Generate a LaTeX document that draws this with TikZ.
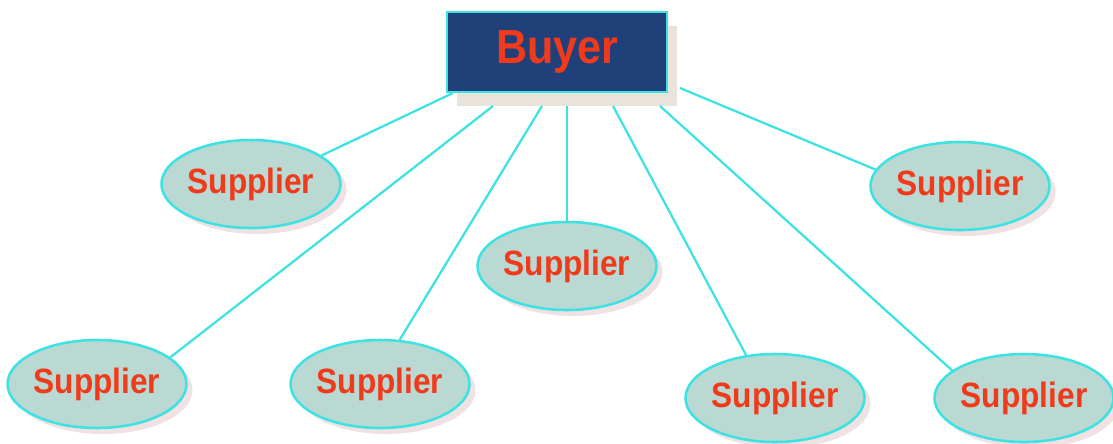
\documentclass[tikz,border=0pt]{standalone}
\usepackage{fontspec}
\setmainfont{Liberation Sans}
\usepackage{graphicx}
\usetikzlibrary{shapes.geometric,shadows}

\definecolor{navy}{HTML}{1F4079}
\definecolor{cyanline}{HTML}{3EE2E2}
\definecolor{redtext}{HTML}{F03A1C}
\definecolor{sagefill}{HTML}{B9D9D2}
\definecolor{beige}{HTML}{E9E4D9}
\definecolor{pinkshade}{HTML}{F0E2E2}

\newcommand{\narrow}[1]{\scalebox{0.9}[1]{#1}}

\begin{document}
\begin{tikzpicture}[x=0.025cm,y=-0.025cm]
        \useasboundingbox (0,0) rectangle (1113,443);

        \node (buyer) at (557,52) [rectangle,draw=cyanline,line width=2pt,fill=navy,
          minimum width=5.5cm,minimum height=2cm,
          drop shadow={shadow xshift=0.25cm,shadow yshift=-0.35cm,fill=beige,opacity=1},
          text=redtext,font=\bfseries\fontsize{34}{40}\selectfont] {\narrow{Buyer}};

        \begin{scope}[every node/.style={ellipse,draw=cyanline,line width=1.8pt,fill=sagefill,
            minimum width=4.35cm,minimum height=2.2cm,inner sep=0pt,
            drop shadow={shadow xshift=0.15cm,shadow yshift=-0.15cm,fill=pinkshade,opacity=1},
            text=redtext,font=\bfseries\fontsize{25}{30}\selectfont}]
          \node (1) at (251,184)  {\narrow{Supplier}};
          \node (2) at (960,186)  {\narrow{Supplier}};
          \node (3) at (567,266)  {\narrow{Supplier}};
          \node (4) at (97,384)   {\narrow{Supplier}};
          \node (5) at (380,384)  {\narrow{Supplier}};
          \node (6) at (775,398)  {\narrow{Supplier}};
          \node (7) at (1024,398) {\narrow{Supplier}};
        \end{scope}

        % where the links leave the buyer box
        \coordinate (b1) at (453,93);
        \coordinate (b2) at (680,88);
        \coordinate (b3) at (567,106);
        \coordinate (b4) at (493,106);
        \coordinate (b5) at (542,106);
        \coordinate (b6) at (613,106);
        \coordinate (b7) at (660,106);

        \begin{scope}[every edge/.style={draw=cyanline,line width=1.6pt}]
          \path (b1) edge (1.22);
          \path (b2) edge (2.169);
          \path (b3) edge (3.north);
          \path (b4) edge (4.20);
          \path (b5) edge (5.66);
          \path (b6) edge (6.124);
          \path (b7) edge (7.159);
        \end{scope}

      \end{tikzpicture}
\end{document}
